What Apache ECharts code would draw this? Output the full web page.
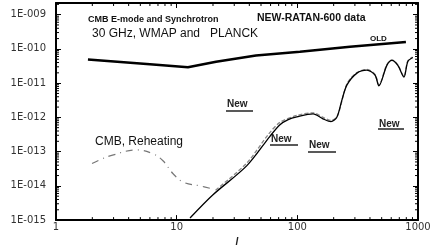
<!DOCTYPE html>
<html>
<head>
<meta charset="utf-8">
<script src="https://cdn.jsdelivr.net/npm/echarts@6/dist/echarts.min.js"></script>
<style>html,body{margin:0;padding:0;background:#fff;}#c{width:436px;height:252px;}</style>
</head>
<body>
<div id="c"></div>
<script>
// ---- data ----
const xTickLabels = ['1', '10', '100', '1000'];
const yTickLabels = ['1E-015', '1E-014', '1E-013', '1E-012', '1E-011', '1E-010', '1E-009'];

const oldL = [1.84, 6.0, 12.4, 21.2, 45.4, 105, 273, 794];
const oldV = [4.9e-11, 3.55e-11, 2.9e-11, 4.2e-11, 6.4e-11, 8.3e-11, 1.15e-10, 1.59e-10];

const eL = [12.9, 20, 38.2, 59.3, 71.8, 84, 99, 135, 163, 190, 213, 234, 258, 312, 377, 440, 474, 552, 608, 681, 764, 824, 907];
const eV = [1.15e-15, 5.5e-15, 3.9e-14, 2.8e-13, 6.1e-13, 8.6e-13, 1.03e-12, 1.26e-12, 9.1e-13, 7.5e-13, 1.03e-12, 3.2e-12, 8.9e-12, 1.96e-11, 2.4e-11, 1.73e-11, 8.4e-12, 3.3e-11, 4.6e-11, 3.3e-11, 1.51e-11, 4.3e-11, 5.6e-11];

const dL = [21, 38, 58, 72, 100, 135, 165, 190, 215, 258, 312, 377, 440, 474, 552, 608, 681, 764, 824, 900];
const dV = [7.5e-15, 4.6e-14, 3.3e-13, 7.2e-13, 1.15e-12, 1.36e-12, 9.8e-13, 8.1e-13, 1.1e-12, 9.6e-12, 2.05e-11, 2.5e-11, 1.8e-11, 8.9e-12, 3.5e-11, 4.8e-11, 3.4e-11, 1.6e-11, 4.5e-11, 5.8e-11];

const rL = [1.99, 2.32, 2.8, 4.69, 6.37, 7.7, 9.3, 11.3, 15.6, 20];
const rV = [4.5e-14, 5.8e-14, 7.5e-14, 1.12e-13, 8.6e-14, 5.4e-14, 2.3e-14, 1.29e-14, 1.0e-14, 8.1e-15];

const xMinor = [2,3,4,5,6,7,8,9,20,30,40,50,60,70,80,90,200,300,400,500,600,700,800,900];
const yMinorMant = [2,3,4,5,6,7,8,9];
const yDecades = [1e-15, 1e-14, 1e-13, 1e-12, 1e-11, 1e-10, 1e-9];

const X_MIN = 1, X_MAX = 1000, Y_MIN = 1e-15, Y_MAX = 2.19e-9;

const zip = (a, b) => a.map((v, i) => [v, b[i]]);
const yMinor = [];
yDecades.forEach(d => yMinorMant.forEach(m => { if (d * m < Y_MAX) yMinor.push(d * m); }));

function yLabel(v) {
  const lg = Math.log10(v), e = Math.round(lg);
  if (Math.abs(lg - e) > 0.01) return '';
  return yTickLabels[e + 15] || '';
}
function xLabel(v) {
  const lg = Math.log10(v), e = Math.round(lg);
  if (Math.abs(lg - e) > 0.01) return '';
  return xTickLabels[e] || '';
}

function tickSeries(data, dx, dy) {
  return {
    type: 'custom', silent: true, clip: false, z: 10,
    coordinateSystem: 'cartesian2d', xAxisIndex: 0, yAxisIndex: 0,
    encode: { x: 0, y: 1 },
    data: data,
    renderItem: function (params, api) {
      const p = api.coord([api.value(0), api.value(1)]);
      return { type: 'line', shape: { x1: p[0], y1: p[1], x2: p[0] + dx, y2: p[1] + dy },
               style: { stroke: '#000', lineWidth: 1 } };
    }
  };
}

const chart = echarts.init(document.getElementById('c'), null, { renderer: 'canvas' });
const axLine = { show: true, lineStyle: { color: '#000', width: 2 } };
const majorTick = { show: true, inside: true, length: 5, lineStyle: { color: '#000', width: 1 } };
chart.setOption({
  animation: false,
  backgroundColor: '#fff',
  grid: { left: 56, right: 18, top: 3, bottom: 26 },
  xAxis: [{
    type: 'log', logBase: 10, min: X_MIN, max: X_MAX, position: 'bottom',
    axisLine: axLine, axisTick: majorTick,
    axisLabel: { formatter: xLabel, margin: 2, fontSize: 10, color: '#333', fontFamily: 'DejaVu Sans' },
    splitLine: { show: false },
    name: 'l', nameLocation: 'middle', nameGap: 13,
    nameTextStyle: { fontStyle: 'italic', fontWeight: 'bold', fontSize: 10, color: '#222', fontFamily: 'Liberation Sans' }
  }, {
    type: 'log', logBase: 10, min: X_MIN, max: X_MAX, position: 'top',
    axisLine: axLine, axisTick: majorTick,
    axisLabel: { show: false }, splitLine: { show: false }
  }],
  yAxis: [{
    type: 'log', logBase: 10, min: Y_MIN, max: Y_MAX, position: 'left',
    axisLine: axLine, axisTick: majorTick,
    axisLabel: { formatter: yLabel, margin: 10, fontSize: 10, color: '#333', fontFamily: 'DejaVu Sans' },
    splitLine: { show: false }
  }, {
    type: 'log', logBase: 10, min: Y_MIN, max: Y_MAX, position: 'right',
    axisLine: axLine, axisTick: majorTick,
    axisLabel: { show: false }, splitLine: { show: false }
  }],
  series: [
    { type: 'line', name: 'OLD', data: zip(oldL, oldV), smooth: false, symbol: 'none',
      lineStyle: { color: '#000', width: 2.5 } },
    { type: 'line', name: 'Reheating', data: zip(rL, rV), smooth: 0.4, symbol: 'none',
      lineStyle: { color: '#777', width: 1.2, type: [7, 5, 1, 5] } },
    { type: 'line', name: 'E-mode dashed', data: zip(dL, dV), smooth: 0.3, symbol: 'none',
      lineStyle: { color: '#888', width: 1.3, type: [4, 2] } },
    { type: 'line', name: 'E-mode', data: zip(eL, eV), smooth: 0.3, symbol: 'none',
      lineStyle: { color: '#000', width: 1.3 } },
    tickSeries(xMinor.map(v => [v, Y_MIN]), 0, -3),
    tickSeries(xMinor.map(v => [v, Y_MAX]), 0, 3),
    tickSeries(yMinor.map(v => [X_MIN, v]), 3, 0),
    tickSeries(yMinor.map(v => [X_MAX, v]), -3, 0)
  ],
  graphic: [
    { type: 'text', left: 88, top: 15, style: { text: 'CMB E-mode and Synchrotron', font: 'bold 9px "Liberation Sans"', fill: '#111' } },
    { type: 'text', left: 257, top: 13, style: { text: 'NEW-RATAN-600 data', font: 'bold 10.5px "Liberation Sans"', fill: '#111' } },
    { type: 'text', left: 92, top: 28, style: { text: '30 GHz, WMAP and   PLANCK', font: '12px "Liberation Sans"', fill: '#111' } },
    { type: 'text', left: 370, top: 35, style: { text: 'OLD', font: 'bold 8px "Liberation Sans"', fill: '#111' } },
    { type: 'text', left: 95, top: 136, style: { text: 'CMB, Reheating', font: '12px "Liberation Sans"', fill: '#111' } },
    { type: 'text', left: 227, top: 99, style: { text: 'New', font: 'bold 10px "Liberation Sans"', fill: '#222' } },
    { type: 'line', shape: { x1: 226, y1: 111, x2: 253, y2: 111 }, style: { stroke: '#222', lineWidth: 1.5 } },
    { type: 'text', left: 271, top: 134, style: { text: 'New', font: 'bold 10px "Liberation Sans"', fill: '#222' } },
    { type: 'line', shape: { x1: 270, y1: 145, x2: 298, y2: 145 }, style: { stroke: '#222', lineWidth: 1.5 } },
    { type: 'text', left: 309, top: 140, style: { text: 'New', font: 'bold 10px "Liberation Sans"', fill: '#222' } },
    { type: 'line', shape: { x1: 308, y1: 152, x2: 336, y2: 152 }, style: { stroke: '#222', lineWidth: 1.5 } },
    { type: 'text', left: 379, top: 119, style: { text: 'New', font: 'bold 10px "Liberation Sans"', fill: '#222' } },
    { type: 'line', shape: { x1: 378, y1: 129, x2: 404, y2: 129 }, style: { stroke: '#222', lineWidth: 1.5 } }
  ]
});
</script>
</body>
</html>
